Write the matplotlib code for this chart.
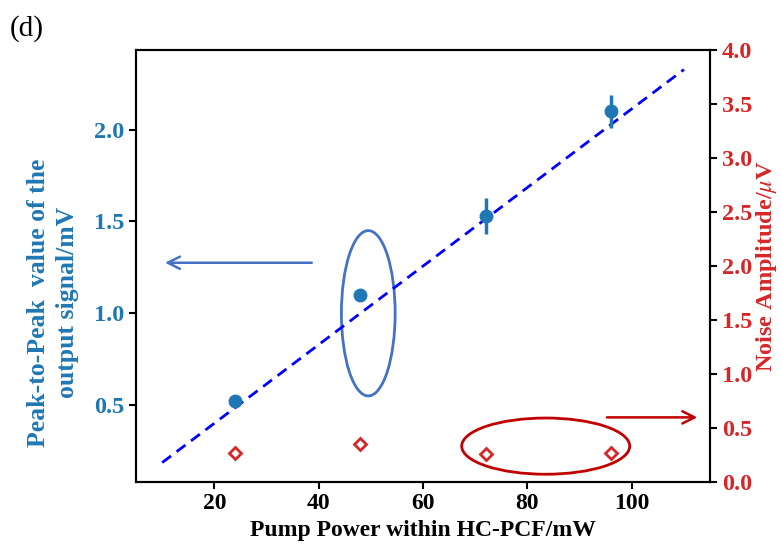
import matplotlib.pyplot as plt
import numpy as np
from matplotlib.patches import Ellipse

plt.rcParams['font.family'] = ['Liberation Serif', 'DejaVu Serif']
plt.rcParams['mathtext.fontset'] = 'stix'

# measured data
pump_power = [24, 48, 72, 96]
peak_to_peak = [0.52, 1.10, 1.53, 2.10]
peak_err = [0.02, 0.02, 0.10, 0.09]
noise_amp = [0.27, 0.35, 0.26, 0.27]

# linear fit shown as dashed line
fit_x = [10, 110]
fit_slope = 0.0214
fit_intercept = -0.027

blue = '#1f77b4'
red = '#d62728'
shape_blue = '#4472c4'
shape_red = '#c00000'

fig = plt.figure(figsize=(7.82, 5.48), dpi=100)
ax = fig.add_axes([0.174, 0.12, 0.734, 0.789])

ax.errorbar(pump_power, peak_to_peak, yerr=peak_err, fmt='o', color=blue,
            markersize=9, elinewidth=2.5, capsize=0, zorder=3)
fx = np.array(fit_x)
ax.plot(fx, fit_slope * fx + fit_intercept, '--', color='blue', lw=2, dashes=(4, 2.5))

ax.set_xticks([20, 40, 60, 80, 100])
ax.set_yticks([0.5, 1.0, 1.5, 2.0])
ax.set_xlabel('Pump Power within HC-PCF/mW', fontsize=17, fontweight='bold',
              labelpad=4)
ax.set_ylabel('Peak-to-Peak  value of the\noutput signal/mV', fontsize=18.5,
              fontweight='bold', color=blue, linespacing=1.3)
ax.yaxis.set_label_coords(-0.145, 0.415)
ax.yaxis.label.set_va('center')
ax.tick_params(axis='y', labelcolor=blue, labelsize=17.5, width=1.5, length=5)
ax.tick_params(axis='x', labelsize=17, width=1.5, length=5, pad=3)
for lab in ax.get_xticklabels() + ax.get_yticklabels():
    lab.set_fontweight('bold')

ax.add_patch(Ellipse((49.5, 1.0), 10.3, 0.9, fill=False, ec=shape_blue, lw=2))
ax.annotate('', xy=(10, 1.275), xytext=(39.2, 1.275),
            arrowprops=dict(arrowstyle='->', color=shape_blue, lw=1.8,
                            mutation_scale=22))

ax2 = ax.twinx()
ax2.plot(pump_power, noise_amp, 'D', mfc='white', mec=red, mew=2,
         markersize=6, linestyle='none')
ax2.set_ylim(0, 4.0)
ax2.set_yticks(np.arange(0, 4.01, 0.5))
ax2.set_ylabel(r'Noise Amplitude/$\mu$V', fontsize=17.5, fontweight='bold',
               color=red, labelpad=1)
ax2.tick_params(axis='y', labelcolor=red, labelsize=17.5, width=1.5, length=5)
for lab in ax2.get_yticklabels():
    lab.set_fontweight('bold')

ax2.add_patch(Ellipse((83.5, 0.334), 32.2, 0.52, fill=False, ec=shape_red, lw=2))
ax2.annotate('', xy=(113.1, 0.60), xytext=(94.7, 0.60),
             arrowprops=dict(arrowstyle='->', color=shape_red, lw=1.8,
                             mutation_scale=22))

for a in (ax, ax2):
    for s in a.spines.values():
        s.set_linewidth(1.5)

fig.text(0.013, 0.935, '(d)', fontsize=21)

fig.savefig('out.png', dpi=100)
